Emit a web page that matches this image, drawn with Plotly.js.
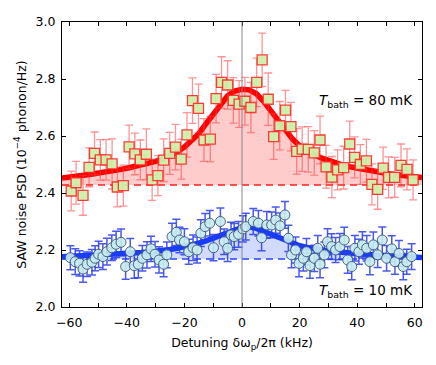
<!DOCTYPE html>
<html>
<head>
<meta charset="utf-8">
<script src="https://cdn.plot.ly/plotly-3.0.1.min.js"></script>
<style>
  html, body { margin: 0; padding: 0; background: #fff; }
  #chart { width: 436px; height: 365px; }
</style>
</head>
<body>
<div id="chart"></div>
<script>
// T_bath = 80 mK data (red squares)
var hotX = [-59.3, -57.6, -55.2, -53.1, -51.2, -49.2, -47.2, -45.1, -43.3, -41.2,
            -39.2, -37.2, -35.3, -33.2, -31.2, -29.2, -27.2, -25.1, -23.1, -21.1,
            -19.1, -17.2, -15.1, -13.2, -11.0, -9.0, -7.1, -5.0, -3.0, -1.0,
            1.0, 3.1, 5.1, 7.0, 9.1, 11.0, 13.1, 15.1, 17.0, 19.0,
            20.9, 23.0, 25.1, 27.1, 29.2, 31.2, 33.2, 35.3, 37.4, 39.1,
            41.1, 43.2, 45.1, 47.1, 49.0, 50.9, 53.0, 55.2, 57.3, 59.4];
var hotY = [2.407, 2.436, 2.392, 2.490, 2.539, 2.516, 2.516, 2.502, 2.421, 2.426,
            2.562, 2.537, 2.516, 2.536, 2.446, 2.461, 2.515, 2.539, 2.561, 2.519,
            2.604, 2.724, 2.697, 2.586, 2.589, 2.731, 2.788, 2.779, 2.725, 2.712,
            2.722, 2.700, 2.788, 2.867, 2.729, 2.598, 2.636, 2.691, 2.633, 2.546,
            2.554, 2.553, 2.541, 2.586, 2.492, 2.456, 2.481, 2.489, 2.572, 2.525,
            2.500, 2.513, 2.430, 2.413, 2.487, 2.455, 2.455, 2.497, 2.483, 2.446];
var hotErr = [0.070, 0.075, 0.070, 0.068, 0.075, 0.071, 0.071, 0.088, 0.070, 0.072,
              0.076, 0.073, 0.070, 0.089, 0.072, 0.070, 0.075, 0.074, 0.080, 0.070,
              0.078, 0.080, 0.085, 0.075, 0.080, 0.085, 0.090, 0.085, 0.080, 0.082,
              0.084, 0.088, 0.085, 0.094, 0.092, 0.080, 0.085, 0.069, 0.085, 0.080,
              0.078, 0.080, 0.078, 0.084, 0.075, 0.072, 0.070, 0.075, 0.080, 0.072,
              0.070, 0.075, 0.072, 0.070, 0.074, 0.072, 0.070, 0.075, 0.072, 0.070];

// T_bath = 10 mK data (blue circles)
var coldX = [-59.6, -57.9, -56.4, -55.2, -53.8, -52.1, -51.0, -49.8, -48.3, -46.9,
             -45.2, -43.7, -42.0, -40.4, -38.8, -37.4, -36.0, -34.6, -33.0, -31.6,
             -30.2, -28.8, -27.2, -26.1, -24.3, -22.8, -21.7, -20.0, -18.5, -17.0,
             -15.6, -14.3, -12.8, -11.2, -9.9, -7.5, -6.2, -5.0, -3.8, -2.7,
             -1.2, 0.3, 1.3, 3.9, 5.7, 6.8, 8.6, 10.3, 11.7, 13.2,
             14.9, 16.1, 17.2, 18.6, 19.8, 21.3, 22.4, 23.6, 25.1, 26.3,
             27.1, 28.6, 29.7, 31.1, 32.5, 34.0, 35.5, 36.7, 38.1, 39.2,
             40.6, 41.8, 43.3, 44.4, 45.6, 47.1, 48.7, 50.2, 52.0, 53.1,
             54.5, 56.0, 57.2, 58.9];
var coldY = [2.173, 2.159, 2.153, 2.133, 2.150, 2.157, 2.171, 2.185, 2.177, 2.194,
             2.208, 2.220, 2.227, 2.142, 2.194, 2.145, 2.150, 2.171, 2.183, 2.204,
             2.185, 2.165, 2.150, 2.183, 2.247, 2.262, 2.235, 2.229, 2.194, 2.208,
             2.200, 2.259, 2.282, 2.294, 2.208, 2.300, 2.229, 2.206, 2.253, 2.247,
             2.255, 2.274, 2.282, 2.300, 2.294, 2.243, 2.288, 2.288, 2.305, 2.285,
             2.323, 2.241, 2.183, 2.200, 2.153, 2.171, 2.194, 2.145, 2.171, 2.206,
             2.150, 2.183, 2.229, 2.212, 2.200, 2.212, 2.235, 2.165, 2.142, 2.206,
             2.194, 2.218, 2.206, 2.159, 2.218, 2.183, 2.235, 2.171, 2.204, 2.159,
             2.188, 2.142, 2.159, 2.177];
var coldErr = [0.042, 0.045, 0.044, 0.046, 0.043, 0.045, 0.044, 0.046, 0.045, 0.047,
               0.045, 0.046, 0.047, 0.045, 0.046, 0.044, 0.047, 0.045, 0.046, 0.044,
               0.045, 0.046, 0.044, 0.045, 0.047, 0.046, 0.045, 0.046, 0.044, 0.045,
               0.046, 0.047, 0.046, 0.045, 0.046, 0.047, 0.045, 0.046, 0.044, 0.046,
               0.045, 0.046, 0.047, 0.046, 0.045, 0.046, 0.047, 0.045, 0.046, 0.045,
               0.047, 0.046, 0.045, 0.046, 0.047, 0.045, 0.046, 0.044, 0.046, 0.045,
               0.047, 0.045, 0.046, 0.045, 0.044, 0.046, 0.045, 0.047, 0.046, 0.045,
               0.044, 0.046, 0.045, 0.046, 0.045, 0.044, 0.046, 0.045, 0.046, 0.044,
               0.045, 0.046, 0.044, 0.045];

// fitted curves, every 2.5 kHz
var fitX = [-62.5, -60, -57.5, -55, -52.5, -50, -47.5, -45, -42.5, -40,
            -37.5, -35, -32.5, -30, -27.5, -25, -22.5, -20, -17.5, -15,
            -12.5, -10, -7.5, -5, -2.5, 0, 2.5, 5, 7.5, 10,
            12.5, 15, 17.5, 20, 22.5, 25, 27.5, 30, 32.5, 35,
            37.5, 40, 42.5, 45, 47.5, 50, 52.5, 55, 57.5, 60, 62.5];
var hotFit = [2.453, 2.455, 2.458, 2.462, 2.466, 2.469, 2.473, 2.477, 2.482, 2.487,
              2.492, 2.498, 2.504, 2.511, 2.520, 2.530, 2.544, 2.561, 2.582, 2.608,
              2.643, 2.678, 2.713, 2.741, 2.758, 2.764, 2.762, 2.748, 2.722, 2.690,
              2.654, 2.620, 2.590, 2.566, 2.549, 2.535, 2.523, 2.513, 2.505, 2.498,
              2.492, 2.487, 2.482, 2.477, 2.473, 2.469, 2.465, 2.462, 2.459, 2.456, 2.454];
var coldFit = [2.176, 2.177, 2.178, 2.179, 2.180, 2.181, 2.182, 2.184, 2.185, 2.187,
               2.189, 2.191, 2.193, 2.195, 2.198, 2.202, 2.206, 2.211, 2.217, 2.224,
               2.232, 2.241, 2.251, 2.262, 2.272, 2.279, 2.281, 2.276, 2.266, 2.255,
               2.243, 2.232, 2.223, 2.215, 2.209, 2.204, 2.200, 2.197, 2.194, 2.191,
               2.189, 2.187, 2.185, 2.183, 2.181, 2.180, 2.178, 2.177, 2.176, 2.175, 2.174];
var hotBase = 2.428;
var coldBase = 2.168;
var xEdges = [-62.5, 62.5];

var xTicks = [-60, -50, -40, -30, -20, -10, 0, 10, 20, 30, 40, 50, 60];
var xTickText = ['\u221260', '', '\u221240', '', '\u221220', '', '0', '', '20', '', '40', '', '60'];

var font = 'DejaVu Sans, sans-serif';

var traces = [
  {x: xEdges, y: [hotBase, hotBase], mode: 'lines', hoverinfo: 'skip',
   line: {color: 'rgb(255,30,30)', width: 1.5, dash: '7px,5px'}},
  {x: fitX, y: hotFit, mode: 'lines', fill: 'tonexty', fillcolor: 'rgba(255,0,0,0.2)',
   line: {color: 'rgb(255,0,0)', width: 5.5}},
  {x: xEdges, y: [coldBase, coldBase], mode: 'lines', hoverinfo: 'skip',
   line: {color: 'rgb(40,70,255)', width: 1.5, dash: '7px,5px'}},
  {x: fitX, y: coldFit, mode: 'lines', fill: 'tonexty', fillcolor: 'rgba(30,70,255,0.2)',
   line: {color: 'rgb(20,60,255)', width: 5.5}},
  {x: hotX, y: hotY, mode: 'markers', type: 'scatter',
   error_y: {type: 'data', array: hotErr, visible: true, color: 'rgba(255,60,60,0.55)',
             thickness: 1.3, width: 4},
   marker: {symbol: 'square', size: 10, color: 'rgba(205,240,170,0.95)',
            line: {color: 'rgba(255,40,40,0.9)', width: 1.3}}},
  {x: coldX, y: coldY, mode: 'markers', type: 'scatter',
   error_y: {type: 'data', array: coldErr, visible: true, color: 'rgba(40,60,235,0.85)',
             thickness: 1.5, width: 4},
   marker: {symbol: 'circle', size: 10, color: 'rgba(200,236,240,0.9)',
            line: {color: 'rgba(60,85,120,0.9)', width: 1}}}
];

var layout = {
  width: 436, height: 365,
  margin: {l: 62, r: 14, t: 22, b: 58},
  paper_bgcolor: '#fff', plot_bgcolor: '#fff',
  showlegend: false,
  font: {family: font, size: 12.5, color: '#000'},
  xaxis: {
    range: [-62.5, 62.5], tickmode: 'array', tickvals: xTicks, ticktext: xTickText,
    ticks: 'inside', ticklen: 4, tickcolor: '#000', showline: true, linecolor: '#000',
    linewidth: 1, mirror: 'ticks', showgrid: false, zeroline: false, ticklabelstandoff: 4,
    title: {text: 'Detuning \u03b4\u03c9<sub>p</sub>/2\u03c0 (kHz)', font: {size: 12.5}, standoff: 9}
  },
  yaxis: {
    range: [2.0, 3.0], tickmode: 'linear', tick0: 2.0, dtick: 0.2, tickformat: '.1f',
    ticks: 'inside', ticklen: 4, tickcolor: '#000', showline: true, linecolor: '#000',
    linewidth: 1, mirror: 'ticks', showgrid: false, zeroline: false, ticklabelstandoff: 3,
    title: {text: 'SAW noise PSD (10<sup>\u22124</sup> phonon/Hz)', font: {size: 12.5}, standoff: 6}
  },
  shapes: [
    {type: 'line', xref: 'x', yref: 'paper', x0: 0, x1: 0, y0: 0, y1: 1,
     line: {color: '#888', width: 1}}
  ],
  annotations: [
    {xref: 'x', yref: 'y', x: 60, y: 2.723, xanchor: 'right', yanchor: 'middle',
     showarrow: false, text: '<i>T</i><sub>bath</sub> = 80 mK', font: {size: 13.5}},
    {xref: 'x', yref: 'y', x: 60, y: 2.056, xanchor: 'right', yanchor: 'middle',
     showarrow: false, text: '<i>T</i><sub>bath</sub> = 10 mK', font: {size: 13.5}}
  ]
};

Plotly.newPlot('chart', traces, layout, {displayModeBar: false, staticPlot: true});
</script>
</body>
</html>
